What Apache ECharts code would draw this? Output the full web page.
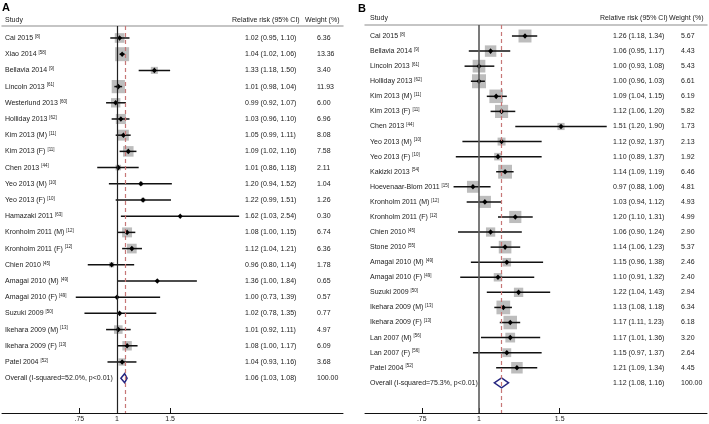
<!DOCTYPE html>
<html><head><meta charset="utf-8">
<script src="https://cdn.jsdelivr.net/npm/echarts@6/dist/echarts.min.js"></script>
<style>html,body{margin:0;padding:0;background:#fff}#c{width:709px;height:424px}</style>
</head><body><div id="c"></div><script>
// ---------- Panel A data ----------
const studiesA = ['Cai 2015','Xiao 2014','Bellavia 2014','Lincoln 2013','Westerlund 2013','Holliday 2013','Kim 2013 (M)','Kim 2013 (F)','Chen 2013','Yeo 2013 (M)','Yeo 2013 (F)','Hamazaki 2011','Kronholm 2011 (M)','Kronholm 2011 (F)','Chien 2010','Amagai 2010 (M)','Amagai 2010 (F)','Suzuki 2009','Ikehara 2009 (M)','Ikehara 2009 (F)','Patel 2004'];
const refsA = ['8','58','9','61','60','62','11','11','44','10','10','63','12','12','45','49','49','50','13','13','52'];
const rrA   = [1.02,1.04,1.33,1.01,0.99,1.03,1.05,1.09,1.01,1.20,1.22,1.62,1.08,1.12,0.96,1.36,1.00,1.02,1.01,1.08,1.04];
const lowA  = [0.95,1.02,1.18,0.98,0.92,0.96,0.99,1.02,0.86,0.94,0.99,1.03,1.00,1.04,0.80,1.00,0.73,0.78,0.92,1.00,0.93];
const highA = [1.10,1.06,1.50,1.04,1.07,1.10,1.11,1.16,1.18,1.52,1.51,2.54,1.15,1.21,1.14,1.84,1.39,1.35,1.11,1.17,1.16];
const weightA = ['6.36','13.36','3.40','11.93','6.00','6.96','8.08','7.58','2.11','1.04','1.26','0.30','6.74','6.36','1.78','0.65','0.57','0.77','4.97','6.09','3.68'];
const overallLabelA = 'Overall (I-squared=52.0%, p<0.01)';
const overallA = [1.06, 1.03, 1.08];
const overallWeightA = '100.00';

// ---------- Panel B data ----------
const studiesB = ['Cai 2015','Bellavia 2014','Lincoln 2013','Holliday 2013','Kim 2013 (M)','Kim 2013 (F)','Chen 2013','Yeo 2013 (M)','Yeo 2013 (F)','Kakizki 2013','Hoevenaar-Blom 2011','Kronholm 2011 (M)','Kronholm 2011 (F)','Chien 2010','Stone 2010','Amagai 2010 (M)','Amagai 2010 (F)','Suzuki 2009','Ikehara 2009 (M)','Ikehara 2009 (F)','Lan 2007 (M)','Lan 2007 (F)','Patel 2004'];
const refsB = ['8','9','61','62','11','11','44','10','10','54','15','12','12','45','55','49','49','50','13','13','56','56','52'];
const rrB   = [1.26,1.06,1.00,1.00,1.09,1.12,1.51,1.12,1.10,1.14,0.97,1.03,1.20,1.06,1.14,1.15,1.10,1.22,1.13,1.17,1.17,1.15,1.21];
const lowB  = [1.18,0.95,0.93,0.96,1.04,1.06,1.20,0.92,0.89,1.09,0.88,0.94,1.10,0.90,1.06,0.96,0.91,1.04,1.08,1.11,1.01,0.97,1.09];
const highB = [1.34,1.17,1.08,1.03,1.15,1.20,1.90,1.37,1.37,1.19,1.06,1.12,1.31,1.24,1.23,1.38,1.32,1.43,1.18,1.23,1.36,1.37,1.34];
const weightB = ['5.67','4.43','5.43','6.61','6.19','5.82','1.73','2.13','1.92','6.46','4.81','4.93','4.99','2.90','5.37','2.46','2.40','2.94','6.34','6.18','3.20','2.64','4.45'];
const overallLabelB = 'Overall (I-squared=75.3%, p<0.01)';
const overallB = [1.12, 1.08, 1.16];
const overallWeightB = '100.00';

// ---------- axis ticks ----------
const tickValues = [0.75, 1, 1.5];
const tickLabels = ['.75', '1', '1.5'];
const headerStudy = 'Study';
const headerRR = 'Relative risk (95% CI)';
const headerWeight = 'Weight (%)';

const FONT = "'Liberation Sans', Arial, sans-serif";
const TXT = '#1a1a1a';
const fmt = v => v.toFixed(2);

const panels = [
  { tag: 'A', studies: studiesA, refs: refsA, rr: rrA, low: lowA, high: highA, weight: weightA,
    overallLabel: overallLabelA, overall: overallA, overallWeight: overallWeightA,
    left: 2, width: 341, top: 26, height: 387, zeroX: 117, ppl: 131, yMin: -0.74, yMax: 23.15,
    labelX: 5, rrX: 245, wX: 317, headY: 20, tagX: 2, tagY: 8, boxMax: 14, diamondH: 9,
    nullColor: '#222', nullWidth: 1.2 },
  { tag: 'B', studies: studiesB, refs: refsB, rr: rrB, low: lowB, high: highB, weight: weightB,
    overallLabel: overallLabelB, overall: overallB, overallWeight: overallWeightB,
    left: 365, width: 342, top: 25, height: 388, zeroX: 479, ppl: 199, yMin: -0.73, yMax: 25,
    labelX: 370, rrX: 613, wX: 681, headY: 18.5, tagX: 358, tagY: 9, boxMax: 14, diamondH: 10,
    nullColor: '#5a5a5a', nullWidth: 1.6 }
];

const grids = [], xAxes = [], yAxes = [], series = [], graphics = [];
const textStyle = (x, y, text, extra) => Object.assign({ x, y, text, fill: TXT, fontSize: 7, fontFamily: FONT, align: 'left', verticalAlign: 'middle' }, extra || {});

panels.forEach((p, gi) => {
  const xMin = (p.left - p.zeroX) / p.ppl;
  const xMax = (p.left + p.width - p.zeroX) / p.ppl;
  const maxW = Math.max(...p.weight.map(Number));
  grids.push({ left: p.left, top: p.top, width: p.width, height: p.height, containLabel: false });
  const tickLn = tickValues.map(v => Math.log(v));
  xAxes.push({
    gridIndex: gi, type: 'value', position: 'bottom', min: xMin, max: xMax,
    axisLine: { show: true, onZero: false, lineStyle: { color: '#111', width: 1 } },
    axisTick: { show: true, inside: true, length: 5, customValues: tickLn, lineStyle: { color: '#111' } },
    axisLabel: { show: true, customValues: tickLn, margin: 3, fontSize: 7, fontFamily: FONT, color: TXT,
      formatter: v => { const k = tickLn.findIndex(t => Math.abs(t - v) < 1e-6); return k >= 0 ? tickLabels[k] : ''; } },
    splitLine: { show: false }
  });
  xAxes.push({
    gridIndex: gi, type: 'value', position: 'top', min: xMin, max: xMax,
    axisLine: { show: true, onZero: false, lineStyle: { color: '#b3b3b3', width: 1.5 } },
    axisTick: { show: false }, axisLabel: { show: false }, splitLine: { show: false }
  });
  yAxes.push({ gridIndex: gi, type: 'value', inverse: true, min: p.yMin, max: p.yMax, show: false });
  const xIdx = gi * 2;

  const rows = p.studies.map((s, i) => [i, Math.log(p.rr[i]), Math.log(p.low[i]), Math.log(p.high[i]), Number(p.weight[i])]);
  series.push({
    type: 'custom', xAxisIndex: xIdx, yAxisIndex: gi, clip: false, silent: true,
    encode: { x: 1, y: 0 }, data: rows,
    renderItem: (params, api) => {
      const i = params.dataIndex;
      const row = api.value(0);
      const c = api.coord([api.value(1), row]);
      const lo = api.coord([api.value(2), row]);
      const hi = api.coord([api.value(3), row]);
      const y = c[1];
      const side = p.boxMax * Math.sqrt(api.value(4) / maxW);
      return { type: 'group', children: [
        { type: 'rect', shape: { x: c[0] - side / 2, y: y - side / 2, width: side, height: side }, style: { fill: '#bdbdbd' } },
        { type: 'line', shape: { x1: lo[0], y1: y, x2: hi[0], y2: y }, style: { stroke: '#111', lineWidth: 1.5 } },
        { type: 'polygon', shape: { points: [[c[0] - 2.5, y], [c[0], y - 2.8], [c[0] + 2.5, y], [c[0], y + 2.8]] }, style: { fill: '#000' } },
        { type: 'text', style: textStyle(p.labelX, y, '{n|' + p.studies[i] + ' }{s|[' + p.refs[i] + ']}', {
            rich: { n: { fontSize: 7, fontFamily: FONT, fill: TXT, lineHeight: 8 },
                    s: { fontSize: 4.5, fontFamily: FONT, fill: TXT, lineHeight: 4, verticalAlign: 'top' } } }) },
        { type: 'text', style: textStyle(p.rrX, y, fmt(p.rr[i]) + ' (' + fmt(p.low[i]) + ', ' + fmt(p.high[i]) + ')') },
        { type: 'text', style: textStyle(p.wX, y, p.weight[i]) }
      ] };
    },
    markLine: {
      silent: true, symbol: 'none', animation: false, label: { show: false },
      data: [
        { xAxis: 0, lineStyle: { color: p.nullColor, width: p.nullWidth, type: 'solid' } },
        { xAxis: Math.log(p.overall[0]), lineStyle: { color: '#c77777', width: 1.2, type: [4, 3] } }
      ]
    },
    z: 3
  });

  const oRow = p.studies.length;
  series.push({
    type: 'custom', xAxisIndex: xIdx, yAxisIndex: gi, clip: false, silent: true,
    encode: { x: 1, y: 0 },
    data: [[oRow, Math.log(p.overall[0]), Math.log(p.overall[1]), Math.log(p.overall[2])]],
    renderItem: (params, api) => {
      const row = api.value(0);
      const c = api.coord([api.value(1), row]);
      const lo = api.coord([api.value(2), row]);
      const hi = api.coord([api.value(3), row]);
      const y = c[1], h = p.diamondH / 2;
      return { type: 'group', children: [
        { type: 'polygon', shape: { points: [[lo[0], y], [c[0], y - h], [hi[0], y], [c[0], y + h]] },
          style: { fill: '#fff', stroke: '#262680', lineWidth: 1.5 } },
        { type: 'text', style: textStyle(p.labelX, y, p.overallLabel) },
        { type: 'text', style: textStyle(p.rrX, y, fmt(p.overall[0]) + ' (' + fmt(p.overall[1]) + ', ' + fmt(p.overall[2]) + ')') },
        { type: 'text', style: textStyle(p.wX, y, p.overallWeight) }
      ] };
    },
    z: 4
  });

  graphics.push({ type: 'text', style: textStyle(p.tagX, p.tagY, p.tag, { fontSize: 11, fontWeight: 'bold', fill: '#000' }) });
  graphics.push({ type: 'text', style: textStyle(p.labelX, p.headY, headerStudy) });
  graphics.push({ type: 'text', style: textStyle(p.rrX - 13, p.headY, headerRR) });
  graphics.push({ type: 'text', style: textStyle(p.wX - 12, p.headY, headerWeight) });
});

const chart = echarts.init(document.getElementById('c'), null, { renderer: 'canvas' });
chart.setOption({
  animation: false,
  backgroundColor: '#fff',
  grid: grids, xAxis: xAxes, yAxis: yAxes, series: series,
  graphic: graphics
});
</script></body></html>
